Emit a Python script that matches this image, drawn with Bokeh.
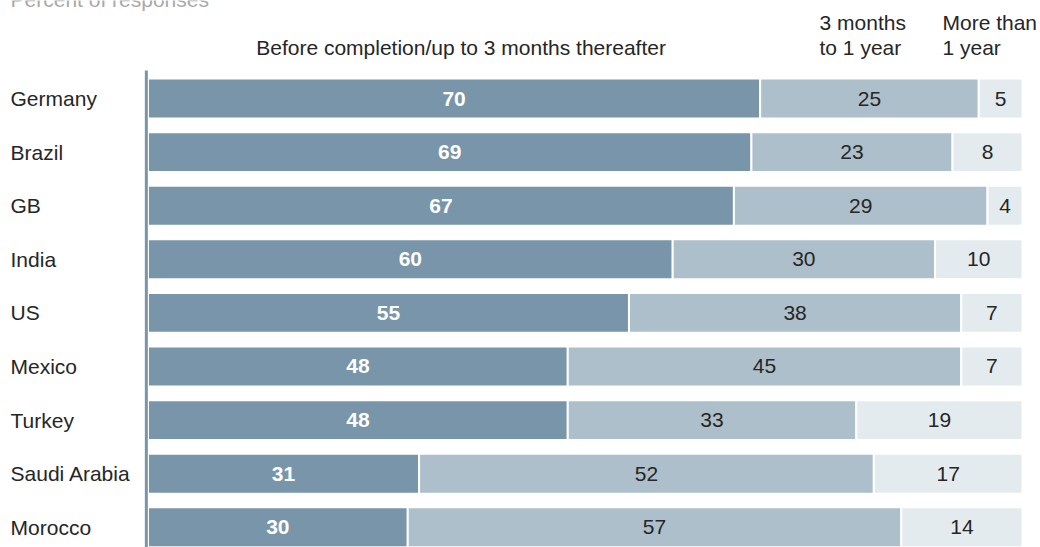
from bokeh.plotting import figure
from bokeh.models import ColumnDataSource, Range1d
from bokeh.core.properties import value
from bokeh.embed import file_html
from bokeh.resources import INLINE

# ---- data ----
countries = ["Germany", "Brazil", "GB", "India", "US", "Mexico", "Turkey", "Saudi Arabia", "Morocco"]
before = [70, 69, 67, 60, 55, 48, 48, 31, 30]
months3_1y = [25, 23, 29, 30, 38, 45, 33, 52, 57]
more_1y = [5, 8, 4, 10, 7, 7, 19, 17, 14]
series_names = ["Before completion/up to 3 months thereafter", "3 months\nto 1 year", "More than\n1 year"]
title_text = "Percent of responses"

# ---- style ----
FONT = "Liberation Sans"
C_DARK = "#7895a9"
C_MID = "#adbfcb"
C_LIGHT = "#e4ebef"
C_TEXT = "#262626"

n = len(countries)
rows = list(range(n))

# normalized stacking
segs = []
for i in range(n):
    vals = [before[i], months3_1y[i], more_1y[i]]
    tot = float(sum(vals))
    acc = 0.0
    out = []
    for v in vals:
        l = acc / tot * 100
        acc += v
        r = acc / tot * 100
        out.append((l, r, v))
    segs.append(out)

colors = [C_DARK, C_MID, C_LIGHT]

p = figure(width=1040, height=547, output_backend="svg", toolbar_location=None,
           x_range=Range1d(-16.867, 102.06), y_range=Range1d(8.3769, -1.8284),
           x_axis_location=None, y_axis_location=None, min_border=0,
           outline_line_color=None, margin=(0, 0, 0, 0))
p.grid.visible = False
p.background_fill_color = "white"
p.border_fill_color = "white"

for k in range(3):
    src = ColumnDataSource(dict(
        y=rows,
        left=[segs[i][k][0] for i in rows],
        right=[segs[i][k][1] for i in rows],
        mid=[(segs[i][k][0] + segs[i][k][1]) / 2 for i in rows],
        lab=[str(segs[i][k][2]) for i in rows],
    ))
    p.hbar(y="y", left="left", right="right", height=0.745, source=src,
           fill_color=colors[k], line_color="white", line_width=2)
    p.text(x="mid", y="y", text="lab", source=src,
           text_font=value(FONT), text_font_size="21px",
           text_font_style="bold" if k == 0 else "normal",
           text_color="white" if k == 0 else C_TEXT,
           text_align="center", text_baseline="middle")

# vertical axis line
p.segment(x0=[-0.19], y0=[-0.522], x1=[-0.19], y1=[n + 0.5], line_color=C_DARK, line_width=3)

# country labels
p.text(x=[-15.72] * n, y=rows, text=countries, text_font=value(FONT), text_font_size="21px",
       text_color=C_TEXT, text_align="left", text_baseline="middle")

# headers
p.text(x=[35.8], y=[-0.951], text=[series_names[0]], text_font=value(FONT), text_font_size="21px",
       text_color=C_TEXT, text_align="center", text_baseline="middle")
h2 = series_names[1].split("\n")
h3 = series_names[2].split("\n")
p.text(x=[76.79, 76.79], y=[-1.414, -0.951], text=h2, text_font=value(FONT), text_font_size="21px",
       text_color=C_TEXT, text_align="left", text_baseline="middle")
p.text(x=[90.85, 90.85], y=[-1.414, -0.951], text=h3, text_font=value(FONT), text_font_size="21px",
       text_color=C_TEXT, text_align="left", text_baseline="middle")

# (cut-off) title
p.text(x=[-15.72], y=[-1.856], text=[title_text], text_font=value(FONT), text_font_size="21px",
       text_color="#a9a9a9", text_align="left", text_baseline="middle")

open("out.html", "w").write(file_html(p, INLINE))
